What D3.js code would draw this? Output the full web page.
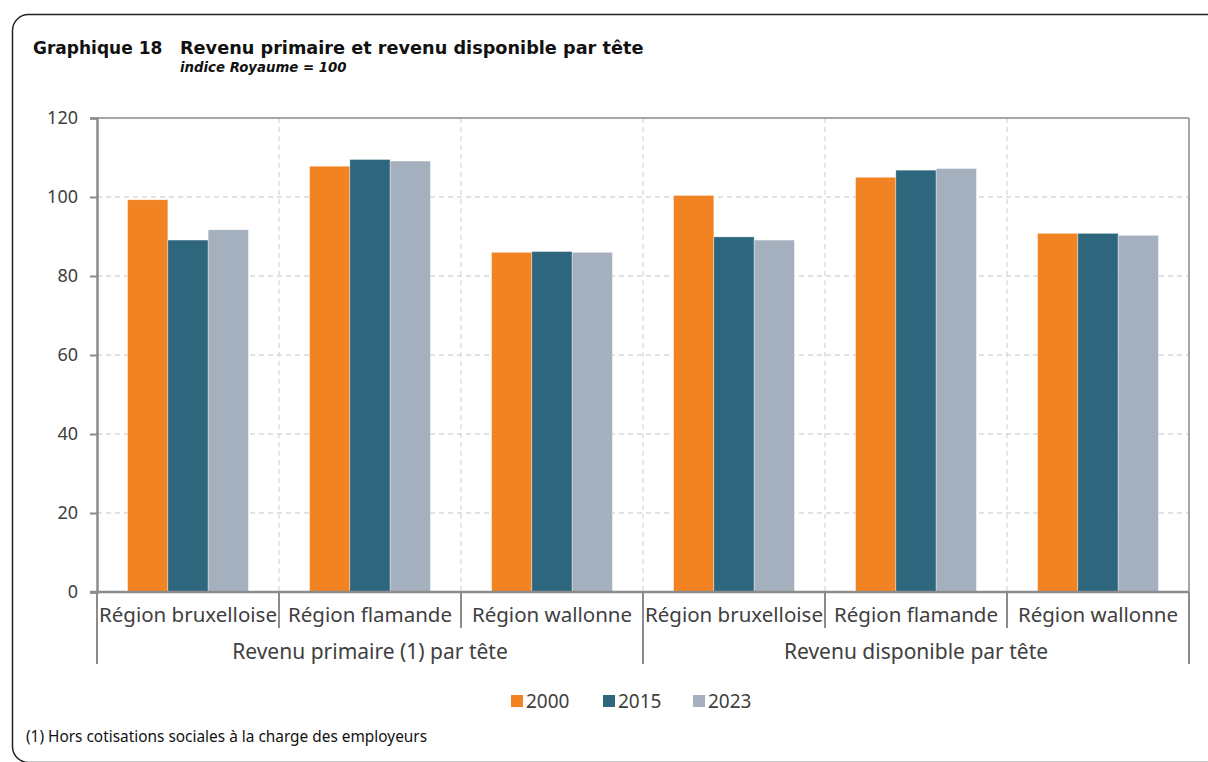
<!DOCTYPE html>
<html>
<head>
<meta charset="utf-8">
<script src="https://cdn.jsdelivr.net/npm/d3@7"></script>
<style>
  html, body { margin: 0; padding: 0; background: #fff; }
  svg { display: block; }
</style>
</head>
<body>
<svg id="chart" width="1208" height="762"></svg>
<script>
// ---- data ----
const groups = ["Revenu primaire (1) par tête", "Revenu disponible par tête"];
const regions = ["Région bruxelloise", "Région flamande", "Région wallonne"];
const years = ["2000", "2015", "2023"];
const values2000 = [99.3, 107.8, 86.0, 100.4, 105.0, 90.8];
const values2015 = [89.1, 109.5, 86.2, 89.9, 106.8, 90.8];
const values2023 = [91.7, 109.1, 86.0, 89.1, 107.2, 90.3];
const yTicks = [0, 20, 40, 60, 80, 100, 120];
const colors = ["#F28322", "#2E667D", "#A5B0BE"];
const titleNum = "Graphique 18";
const titleText = "Revenu primaire et revenu disponible par tête";
const subtitle = "indice Royaume = 100";
const footnote = "(1) Hors cotisations sociales à la charge des employeurs";

// ---- build ----
const cats = [];
groups.forEach((g, gi) => regions.forEach((r, ri) => cats.push({ key: gi + "-" + ri, group: g, region: r })));
const seriesValues = [values2000, values2015, values2023];
const rows = cats.map((c, i) => ({ ...c, vals: years.map((yr, k) => ({ year: yr, value: seriesValues[k][i], k })) }));

const svg = d3.select("#chart");
const FONT = "'Noto Sans', 'Open Sans', sans-serif";
const TXT = "#404040";
const AXIS = "#8c8c8c";

// frame
svg.append("rect").attr("x", 12.5).attr("y", 14.5).attr("width", 1260).attr("height", 748)
  .attr("rx", 16).attr("fill", "none").attr("stroke", "#222").attr("stroke-width", 1.5);

// titles
svg.append("text").attr("x", 33).attr("y", 54).attr("font-family", "'DejaVu Sans', sans-serif")
  .attr("font-weight", "bold").attr("font-size", 17).attr("fill", "#111").text(titleNum);
svg.append("text").attr("x", 180).attr("y", 54).attr("font-family", "'DejaVu Sans', sans-serif")
  .attr("font-weight", "bold").attr("font-size", 17.7).attr("fill", "#111").text(titleText);
svg.append("text").attr("x", 180).attr("y", 72).attr("font-family", "'DejaVu Sans', sans-serif")
  .attr("font-weight", "bold").attr("font-style", "italic").attr("font-size", 13.3).attr("fill", "#111").text(subtitle);

// scales
const pLeft = 97, pRight = 1189, pTop = 118, pBottom = 592;
const y = d3.scaleLinear().domain([0, 120]).range([pBottom, pTop]);
const x0 = d3.scaleBand().domain(cats.map(c => c.key)).range([pLeft, pRight]).padding(0);
const bw = x0.bandwidth();
const x1 = d3.scaleBand().domain(years).range([bw * 0.168, bw * 0.832]).padding(0);

// grid
const gGrid = svg.append("g");
gGrid.selectAll("line.h").data(yTicks.filter(t => t > 0 && t < 120)).join("line")
  .attr("x1", pLeft).attr("x2", pRight).attr("y1", d => y(d)).attr("y2", d => y(d))
  .attr("stroke", "#d9d9d9").attr("stroke-width", 1.3).attr("stroke-dasharray", "5,4");
gGrid.selectAll("line.v").data(cats.slice(1)).join("line")
  .attr("x1", d => x0(d.key)).attr("x2", d => x0(d.key)).attr("y1", pTop).attr("y2", pBottom)
  .attr("stroke", "#d9d9d9").attr("stroke-width", 1.3).attr("stroke-dasharray", "5,4");

// bars
const gBars = svg.append("g");
gBars.selectAll("g").data(rows).join("g")
  .attr("transform", d => `translate(${x0(d.key)},0)`)
  .selectAll("rect").data(d => d.vals).join("rect")
  .attr("x", d => x1(d.year)).attr("width", x1.bandwidth())
  .attr("y", d => y(d.value)).attr("height", d => y(0) - y(d.value))
  .attr("fill", d => colors[d.k]).attr("stroke", "#fff").attr("stroke-opacity", 0.6).attr("stroke-width", 0.6);

// plot frame top/right
svg.append("line").attr("x1", pLeft).attr("x2", pRight).attr("y1", y(120)).attr("y2", y(120))
  .attr("stroke", "#a6a6a6").attr("stroke-width", 2);
svg.append("line").attr("x1", pRight).attr("x2", pRight).attr("y1", y(120)).attr("y2", y(0))
  .attr("stroke", "#a6a6a6").attr("stroke-width", 2);

// y axis
const yAxis = d3.axisLeft(y).tickValues(yTicks).tickSize(7).tickPadding(12).tickFormat(d3.format("d"));
const gy = svg.append("g").attr("transform", `translate(${pLeft},0)`).call(yAxis);
gy.select(".domain").attr("stroke", AXIS).attr("stroke-width", 2.5);
gy.selectAll(".tick line").attr("stroke", AXIS).attr("stroke-width", 2);
gy.selectAll(".tick text").attr("font-family", FONT).attr("font-size", 18).attr("fill", TXT);

// x axis line
svg.append("line").attr("x1", pLeft - 7).attr("x2", pRight).attr("y1", pBottom).attr("y2", pBottom)
  .attr("stroke", AXIS).attr("stroke-width", 2.5);

// category separators
const boundaries = cats.map(c => x0(c.key)).concat([pRight]);
svg.selectAll("line.sep").data(boundaries).join("line")
  .attr("x1", d => d).attr("x2", d => d).attr("y1", pBottom)
  .attr("y2", (d, i) => (i % 3 === 0 ? 664 : 628))
  .attr("stroke", AXIS).attr("stroke-width", 2);

// category labels
svg.selectAll("text.cat").data(cats).join("text")
  .attr("x", d => x0(d.key) + bw / 2).attr("y", 622).attr("text-anchor", "middle")
  .attr("font-family", FONT).attr("font-size", 20.5).attr("fill", TXT).text(d => d.region);

// group labels
svg.selectAll("text.grp").data(groups).join("text")
  .attr("x", (d, i) => (x0(i + "-0") + x0(i + "-2") + bw) / 2).attr("y", 659).attr("text-anchor", "middle")
  .attr("font-family", FONT).attr("font-size", 21).attr("fill", TXT).text(d => d);

// legend
const legendX = [511, 603, 693];
const gLeg = svg.append("g");
years.forEach((yr, i) => {
  gLeg.append("rect").attr("x", legendX[i]).attr("y", 695).attr("width", 12).attr("height", 12).attr("fill", colors[i]);
  gLeg.append("text").attr("x", legendX[i] + 15).attr("y", 708).attr("font-family", FONT)
    .attr("font-size", 19).attr("fill", TXT).text(yr);
});

// footnote
svg.append("text").attr("x", 26).attr("y", 742).attr("font-family", FONT)
  .attr("font-size", 15.4).attr("fill", "#111").text(footnote);
</script>
</body>
</html>
